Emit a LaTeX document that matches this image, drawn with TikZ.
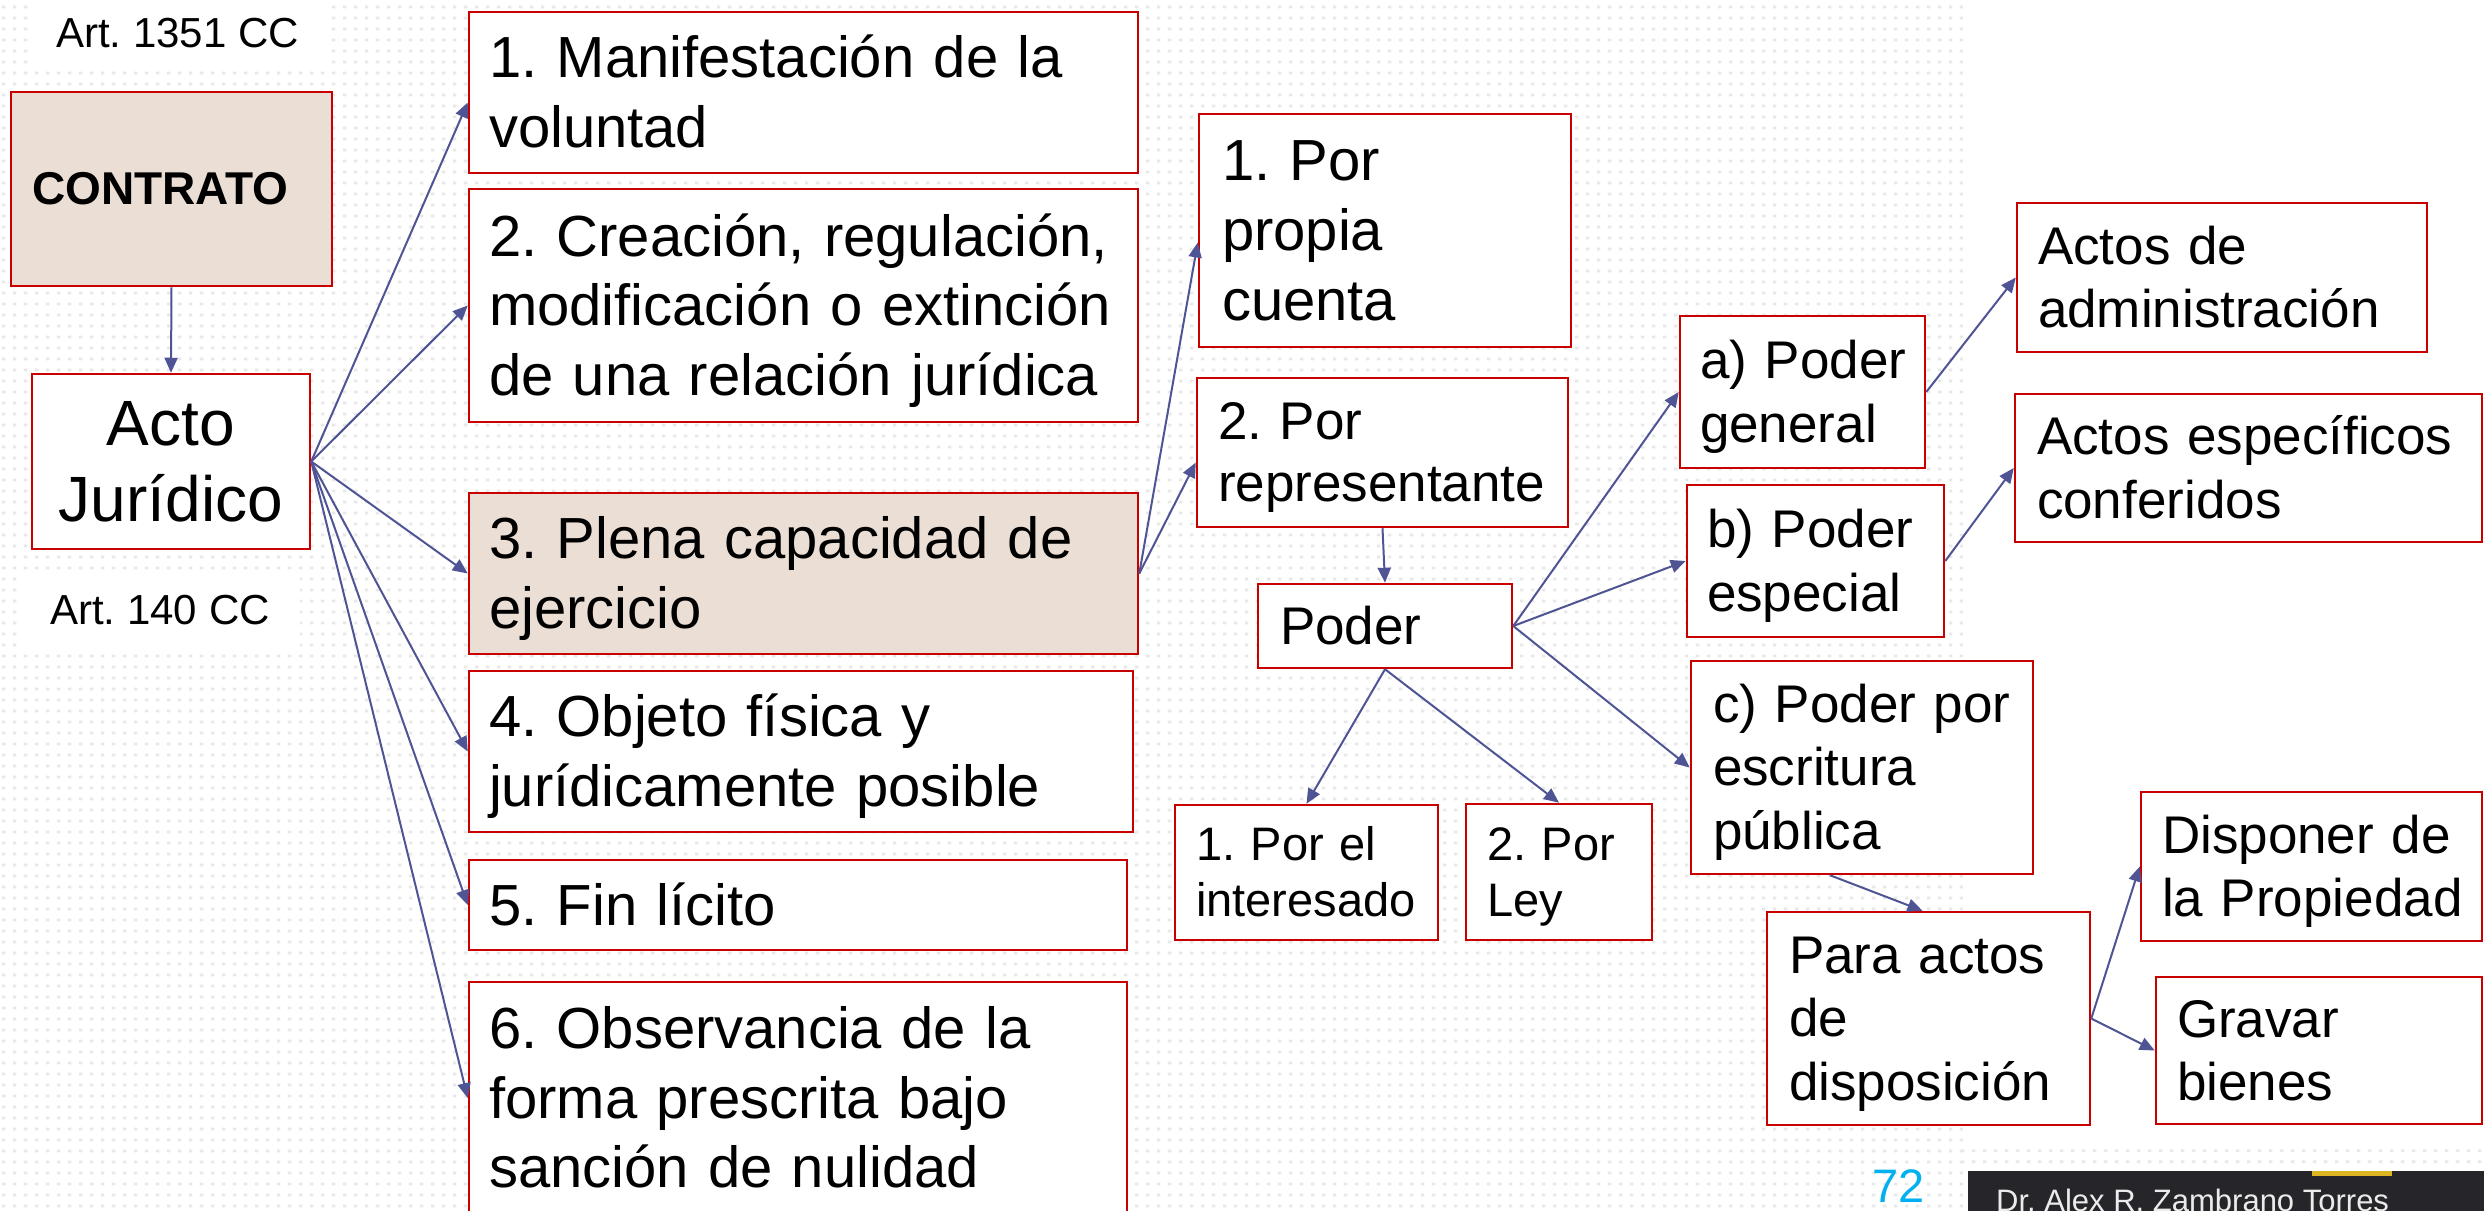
\documentclass[tikz,border=0pt]{standalone}
\usepackage{fontspec}
\setmainfont{Liberation Sans}
\usetikzlibrary{arrows.meta,calc,patterns}
\definecolor{redb}{RGB}{200,0,0}
\definecolor{beige}{RGB}{234,222,213}
\definecolor{arrc}{RGB}{79,84,148}
\definecolor{dotc}{RGB}{232,232,232}
\definecolor{footc}{RGB}{38,38,42}
\definecolor{foott}{RGB}{235,235,235}
\definecolor{cyanp}{RGB}{0,176,240}
\definecolor{goldc}{RGB}{222,182,36}
\newcommand\tp{\rule{0pt}{0.905em}}
\newcommand\bt{\rule[-0.212em]{0pt}{0.212em}}
\hyphenpenalty=10000
\exhyphenpenalty=10000
\frenchspacing
\pgfdeclarepatternformonly{bgdots}{\pgfqpoint{0pt}{0pt}}{\pgfqpoint{11pt}{11pt}}{\pgfqpoint{11pt}{11pt}}{\pgfpathrectangle{\pgfqpoint{3pt}{4pt}}{\pgfqpoint{4pt}{3pt}}\pgfusepath{fill}}
\begin{document}
\frenchspacing
\begin{tikzpicture}[x=1pt,y=-1pt,
  bx/.style n args={4}{draw=redb, line width=2.5pt, fill=white, inner ysep=0pt, align=left,
     minimum width=#1pt, minimum height=#2pt, inner xsep=#3pt, text width=#4pt},
  f58/.style={font=\fontsize{58}{69.5}\selectfont},
  f53/.style={font=\fontsize{53}{63.5}\selectfont},
  f47/.style={font=\fontsize{47}{56}\selectfont},
  arr/.style={draw=arrc, line width=2pt, -{Triangle[length=15pt,width=13pt]}},
  note/.style={fill=white, inner sep=0pt, font=\fontsize{42}{50}\selectfont}
]
\useasboundingbox (0,0) rectangle (2484,1210);
\fill[white] (0,0) rectangle (2484,1210);
\fill[pattern=bgdots, pattern color=dotc] (0,0) rectangle (1963,1210);
\fill[pattern=bgdots, pattern color=dotc] (1963,1148) rectangle (2484,1168);

% left side
\node[note, minimum width=295pt, minimum height=67pt] (art1) at (177.5,33.5) {Art. 1351 CC};
\node[bx={321}{194}{21}{279}, fill=beige, font=\fontsize{46}{55}\selectfont\bfseries] (contrato) at (171.5,189) {\tp CONTRATO\bt};
\node[draw=redb, line width=2.5pt, fill=white, minimum width=278pt, minimum height=175pt, inner sep=0pt, align=center, font=\fontsize{64}{76}\selectfont] (acto) at (171,461.5) {\tp Acto\\Jurídico\bt};
\node[note, minimum width=280pt, minimum height=74pt] (art2) at (160,610) {Art. 140 CC};

% requirements column
\node[bx={669}{161}{20}{629}, f58] (b1) at (803.5,92.5) {\tp 1. Manifestación de la\\voluntad\bt};
\node[bx={669}{233}{20}{629}, f58] (b2) at (803.5,305.5) {\tp 2.~Creación,~regulación,\\modificación~o~extinción\\de una relación jurídica\bt};
\node[bx={669}{161}{20}{629}, f58, fill=beige] (b3) at (803.5,573.5) {\tp 3. Plena capacidad de\\ejercicio\bt};
\node[bx={664}{161}{20}{624}, f58] (b4) at (801,751.5) {\tp 4. Objeto física y\\jurídicamente posible\bt};
\node[bx={658}{90}{20}{618}, f58] (b5) at (798,905) {\tp 5. Fin lícito\bt};
\node[bx={658}{232}{20}{618}, f58] (b6) at (798,1098) {\tp 6. Observancia de la\\forma prescrita bajo\\sanción de nulidad\bt};

% middle
\node[bx={372}{233}{23}{326}, font=\fontsize{58}{70}\selectfont] (p1) at (1385,230.5) {\tp 1. Por\\propia\\cuenta\bt};
\node[bx={371}{149}{21}{329}, font=\fontsize{53}{62}\selectfont] (p2) at (1382.5,452.5) {\tp 2. Por\\representante\bt};
\node[bx={254}{84}{22}{210}, f53] (poder) at (1385,626) {\tp Poder\bt};
\node[bx={263}{135}{21}{221}, f47] (int) at (1306.5,872.5) {\tp 1. Por el\\interesado\bt};
\node[bx={186}{136}{21}{144}, f47] (ley) at (1559,872) {\tp 2. Por\\Ley\bt};

% right
\node[bx={245}{152}{20}{205}, f53] (pa) at (1802.5,392) {\tp a)~Poder\\general\bt};
\node[bx={257}{152}{20}{217}, f53] (pb) at (1815.5,561) {\tp b)~Poder\\especial\bt};
\node[bx={342}{213}{22}{298}, f53] (pc) at (1862,767.5) {\tp c)~Poder~por\\escritura\\pública\bt};
\node[bx={323}{213}{22}{279}, f53] (pd) at (1928.5,1018.5) {\tp Para actos\\de\\disposición\bt};
\node[bx={410}{149}{21}{368}, f53] (aadm) at (2222,277.5) {\tp Actos de\\administración\bt};
\node[bx={467}{148}{22}{423}, f53] (aesp) at (2248.5,468) {\tp Actos~específicos\\conferidos\bt};
\node[bx={341}{149}{21}{299}, f53] (disp) at (2311.5,866.5) {\tp Disponer~de\\la~Propiedad\bt};
\node[bx={326}{147}{21}{284}, f53] (grav) at (2319,1050.5) {\tp Gravar\\bienes\bt};

% footer
\fill[footc] (1968,1171) rectangle (2484,1215);
\fill[goldc] (2312,1171) rectangle (2392,1176);
\node[anchor=base west, inner sep=0pt, text=foott, font=\fontsize{31}{37}\selectfont] (author) at (1996,1211) {Dr. Alex R. Zambrano Torres};
\node[anchor=base west, inner sep=0pt, text=cyanp, font=\fontsize{47}{56}\selectfont] (pnum) at (1872,1202) {72};

% connectors
\draw[arr] (contrato.south) -- (acto.north);
\draw[arr] (acto.east) -- ($(b1.west)+(0,10)$);
\foreach \t in {b2,b3,b4,b5,b6} \draw[arr] (acto.east) -- (\t.west);
\draw[arr] (b3.east) -- ($(p1.west)+(0,12)$);
\draw[arr] (b3.east) -- ($(p2.west)+(0,10)$);
\draw[arr] (p2.south) -- (poder.north);
\draw[arr] (poder.south) -- (int.north);
\draw[arr] (poder.south) -- (ley.north);
\draw[arr] (poder.east) -- (pa.west);
\draw[arr] (poder.east) -- (pb.west);
\draw[arr] (poder.east) -- (pc.west);
\draw[arr] (pa.east) -- (aadm.west);
\draw[arr] (pb.east) -- (aesp.west);
\draw[arr] ($(pc.south)+(-32,0)$) -- ($(pd.north)+(-6,0)$);
\draw[arr] (pd.east) -- (disp.west);
\draw[arr] (pd.east) -- (grav.west);
\end{tikzpicture}
\end{document}
